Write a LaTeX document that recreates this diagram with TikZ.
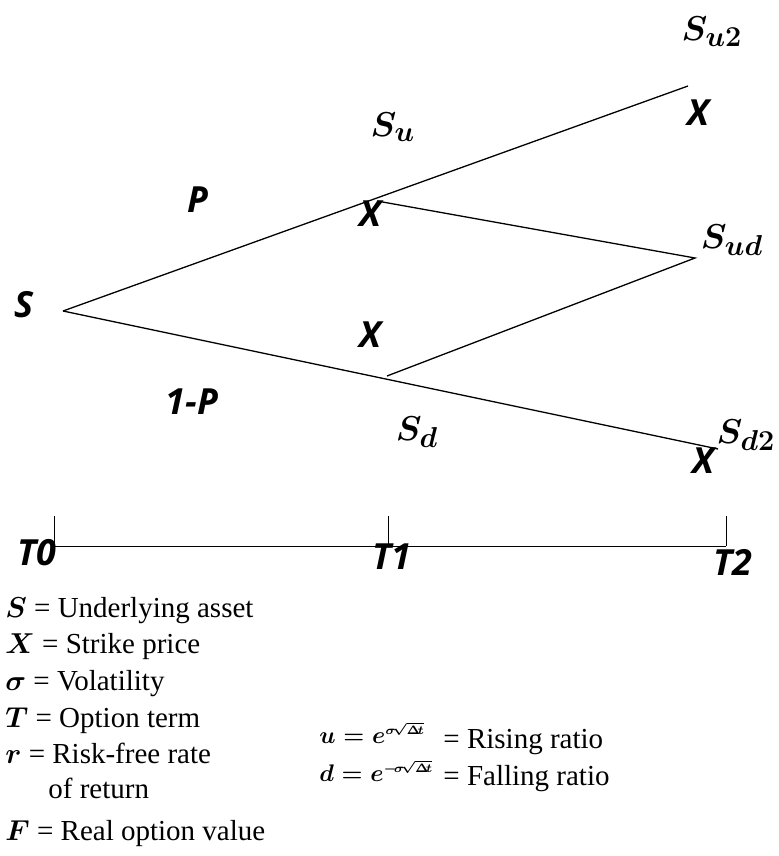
\documentclass[tikz,border=0pt]{standalone}
\usepackage{fontspec}
\setmainfont{Liberation Serif}
\newfontfamily\labelfont{Open Sans}
\usepackage{tikz}

\begin{document}
\begin{tikzpicture}[x=0.5pt, y=-0.5pt,
    lbl/.style={font=\labelfont\bfseries\itshape\fontsize{18}{20}\selectfont, inner sep=0pt},
    val/.style={font=\fontsize{19}{22}\selectfont\boldmath, inner sep=0pt},
    legend/.style={font=\fontsize{14.5}{18}\selectfont, anchor=base west, inner sep=0pt},
    ratio/.style={font=\fontsize{13}{16}\selectfont\boldmath, anchor=base west, inner sep=0pt},
    branch/.style={line width=0.65pt},
    axis/.style={line width=0.5pt}]
    \useasboundingbox (0,0) rectangle (778,856);

    \coordinate (root) at (63,311);
    \coordinate (upmid) at (377,201);
    \coordinate (uptop) at (688,86);
    \coordinate (udmid) at (695,258);
    \coordinate (downmid) at (387,376);
    \coordinate (downbot) at (718,449);

    \draw [branch] (root) -- (uptop);
    \draw [branch] (root) -- (downbot);
    \draw [branch] (upmid) -- (udmid) -- (downmid);

    \node (lblS) [lbl] at (24,305) {S};
    \node (lblP) [lbl] at (198,200) {P};
    \node (lblQ) [lbl] at (192,402) {1-P};
    \node (su) [val] at (393,127) {$S_u$};
    \node (xu) [lbl] at (370,214) {X};
    \node (xd) [lbl] at (370,335) {X};
    \node (sd) [val] at (417,432) {$S_d$};
    \node (suu) [val] at (712,32) {$S_{u2}$};
    \node (xuu) [lbl] at (698,113) {X};
    \node (sud) [val] at (732,240) {$S_{ud}$};
    \node (sdd) [val] at (746,435) {$S_{d2}$};
    \node (xdd) [lbl] at (703,461) {X};

    \coordinate (t0) at (54,546);
    \coordinate (t1) at (388,546);
    \coordinate (t2) at (726,546);
    \draw [axis] (t0) -- (t2);
    \foreach \t in {t0,t1,t2}
        \draw [axis] (\t) -- ++(0,-30);
    \node (tz) [lbl] at (37,553) {T0};
    \node (to) [lbl] at (392,557) {T1};
    \node (tt) [lbl] at (733,562) {T2};

    \node (defS) [legend] at (5,617) {{\boldmath$S$} = Underlying asset};
    \node (defX) [legend] at (5,653) {{\boldmath$X$} = Strike price};
    \node (defV) [legend] at (5,690) {{\boldmath$\sigma$} = Volatility};
    \node (defT) [legend] at (5,727) {{\boldmath$T$} = Option term};
    \node (defR) [legend] at (5,763) {{\boldmath$r$} = Risk-free rate};
    \node (defR2) [legend] at (48,798) {of return};
    \node (defF) [legend] at (5,840) {{\boldmath$F$} = Real option value};

    \node (upf) [ratio] at (319,743) {$u = e^{\scriptscriptstyle\sigma\!\sqrt{\Delta\!t}}$};
    \node (upt) [legend] at (443,748) {= Rising ratio};
    \node (dnf) [ratio] at (319,781) {$d = e^{\scriptscriptstyle-\!\sigma\!\sqrt{\Delta\!t}}$};
    \node (dnt) [legend] at (443,785) {= Falling ratio};
\end{tikzpicture}
\end{document}
